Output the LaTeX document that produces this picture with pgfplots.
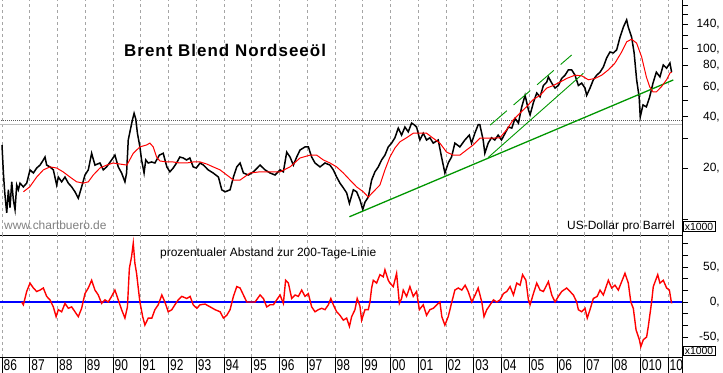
\documentclass[border=0pt]{standalone}
\usepackage{pgfplots}
\pgfplotsset{compat=1.18}
\usepackage{graphicx}
\usepackage{fontspec}
\setmainfont{Liberation Sans}
\definecolor{gridgray}{RGB}{165,165,165}
\definecolor{ogreen}{RGB}{0,150,0}
\definecolor{lgray}{RGB}{190,190,190}
\definecolor{dgray}{RGB}{90,90,90}
\newcommand\yl[1]{\scalebox{1}[1.3]{#1}}
\pgfplotsset{
  common/.style={
    scale only axis, width=682bp,
    xmin=1985.928, xmax=2010.505,
    axis line style={black, line width=0.8bp},
    major tick length=6bp, minor tick length=6bp, tick align=outside,
    ytick style={black, line width=0.8bp},
    minor tick style={black, line width=0.8bp},
    xtick={1986,...,2010}, xticklabels={}, xmajorgrids,
    xtick style={draw=none},
    major grid style={gridgray, dash pattern=on 3bp off 3bp, line width=0.6bp},
    yticklabel style={anchor=east, inner sep=0pt, xshift=32bp, font=\fontsize{12}{12}\selectfont},
  }
}
\begin{document}
\begin{tikzpicture}
% ---------------- top panel: price ----------------
\begin{axis}[common,
  at={(0bp,138bp)}, anchor=south west, height=235bp,
  ymode=log, ymin=8.09, ymax=193.6,
  axis x line*=bottom, axis y line*=right,
  ytick={20,40,60,80,100,140},
  yticklabels={{20,},{40,},{60,},{80,},{100,},{140,}},
  minor ytick={10,30,50,120,160,180},
]
\addplot[lgray, line width=1bp] coordinates {(1985.9,36.24) (2010.6,36.24)};
\addplot[dgray, dash pattern=on 1bp off 1bp, line width=0.8bp] coordinates {(1985.9,38.27) (2010.6,38.27)};
\addplot[black, line width=1.5bp] coordinates {
(1986.00,27.3)(1986.05,18.7)(1986.10,14.3)(1986.17,10.9)(1986.23,14.9)(1986.29,11.7)
(1986.35,16.6)(1986.41,13.0)(1986.47,11.4)(1986.53,15.9)(1986.59,14.9)(1986.65,16.3)
(1986.77,15.5)(1986.89,16.3)(1987.01,19.5)(1987.13,18.7)(1987.25,20.0)(1987.37,20.8)
(1987.49,22.3)(1987.55,23.2)(1987.61,20.8)(1987.73,20.3)(1987.85,19.5)(1987.97,15.9)
(1988.03,17.7)(1988.15,16.6)(1988.27,17.7)(1988.39,16.3)(1988.51,15.5)(1988.63,14.5)
(1988.75,13.3)(1988.87,15.5)(1988.99,18.2)(1989.11,19.5)(1989.23,24.4)(1989.35,20.8)
(1989.53,21.4)(1989.65,19.5)(1989.77,20.3)(1989.95,22.3)(1990.07,23.8)(1990.19,20.3)
(1990.31,18.7)(1990.43,16.6)(1990.49,18.7)(1990.55,29.2)(1990.61,32.6)(1990.70,38.3)
(1990.76,41.9)(1990.82,38.8)(1990.88,32.0)(1990.97,26.6)(1991.03,22.3)(1991.12,18.7)
(1991.18,22.3)(1991.27,21.4)(1991.39,21.7)(1991.51,21.4)(1991.67,23.8)(1991.81,24.4)
(1991.94,20.3)(1992.05,19.0)(1992.17,20.0)(1992.29,21.4)(1992.41,23.2)(1992.53,22.9)
(1992.65,22.3)(1992.77,22.9)(1992.89,20.3)(1993.00,20.0)(1993.14,21.4)(1993.26,20.8)
(1993.43,19.5)(1993.61,18.7)(1993.80,17.7)(1993.92,14.9)(1994.04,14.5)(1994.22,14.9)
(1994.34,17.7)(1994.46,20.3)(1994.58,21.4)(1994.70,18.7)(1994.88,18.2)(1995.06,19.0)
(1995.30,20.8)(1995.48,19.5)(1995.66,18.7)(1995.84,18.2)(1996.02,19.5)(1996.14,19.0)
(1996.26,24.8)(1996.38,23.2)(1996.50,20.8)(1996.62,23.2)(1996.74,25.5)(1996.92,26.6)
(1997.04,26.6)(1997.16,23.2)(1997.28,21.4)(1997.46,20.3)(1997.64,21.4)(1997.82,20.8)
(1997.94,19.5)(1998.06,17.7)(1998.18,16.3)(1998.30,15.3)(1998.42,14.3)(1998.52,12.4)
(1998.66,14.9)(1998.78,14.5)(1998.90,13.0)(1999.00,11.4)(1999.08,12.6)(1999.20,13.5)
(1999.32,17.0)(1999.44,19.0)(1999.56,20.3)(1999.68,22.3)(1999.80,23.8)(1999.92,26.6)
(2000.04,28.0)(2000.16,30.1)(2000.28,34.3)(2000.40,31.2)(2000.52,34.8)(2000.64,32.6)
(2000.76,36.7)(2000.85,35.9)(2000.94,34.8)(2001.06,29.2)(2001.18,32.0)(2001.30,29.2)
(2001.42,30.1)(2001.54,28.0)(2001.72,29.2)(2001.84,23.2)(2001.96,18.7)(2002.08,21.4)
(2002.20,23.2)(2002.32,28.0)(2002.50,26.6)(2002.68,29.2)(2002.84,31.2)(2002.92,28.0)
(2003.04,32.0)(2003.16,35.9)(2003.22,35.9)(2003.34,29.2)(2003.40,24.4)(2003.52,28.0)
(2003.64,30.1)(2003.76,29.2)(2003.88,31.2)(2004.00,29.2)(2004.13,32.0)(2004.25,34.8)
(2004.37,34.3)(2004.49,39.1)(2004.61,36.7)(2004.73,45.7)(2004.85,53.4)(2004.97,43.9)
(2005.03,41.0)(2005.15,48.4)(2005.27,55.1)(2005.39,52.3)(2005.51,61.0)(2005.63,63.8)
(2005.69,68.5)(2005.81,63.0)(2005.93,58.9)(2006.05,61.0)(2006.17,67.1)(2006.29,70.1)
(2006.41,75.3)(2006.53,75.3)(2006.65,70.1)(2006.77,61.0)(2006.89,63.0)(2007.01,58.9)
(2007.07,53.4)(2007.19,58.9)(2007.31,65.9)(2007.43,70.1)(2007.55,73.0)(2007.67,78.3)
(2007.79,88.5)(2007.91,95.9)(2008.03,94.7)(2008.15,98.6)(2008.27,117)(2008.39,134)
(2008.51,148)(2008.57,134)(2008.69,117)(2008.78,94.7)(2008.87,65.9)(2008.96,52.3)
(2009.00,39.9)(2009.10,46.9)(2009.22,45.7)(2009.34,52.3)(2009.46,63.0)(2009.58,73.0)
(2009.71,68.5)(2009.83,80.5)(2009.95,77.1)(2010.07,82.6)(2010.13,73.0)
};
% trend lines
\addplot[ogreen, line width=1.3bp] coordinates {(1998.52,10.35) (2010.19,65.7)};
\addplot[ogreen, line width=0.9bp] coordinates {(2003.52,23.05) (2006.95,71.9)};
\addplot[ogreen, line width=0.9bp, dash pattern=on 22bp off 9bp] coordinates {(2003.59,35.7) (2006.53,92.1)};
% 200-day line
\addplot[red, line width=1bp] coordinates {
(1986.77,14.5)(1987.00,15.5)(1987.25,17.7)(1987.49,19.5)(1987.73,20.3)(1987.97,20.0)
(1988.20,19.0)(1988.45,17.7)(1988.69,16.6)(1988.93,16.3)(1989.11,16.6)(1989.29,18.2)
(1989.53,20.0)(1989.77,20.8)(1990.00,21.4)(1990.25,21.1)(1990.50,20.8)(1990.73,24.4)
(1990.97,26.6)(1991.21,27.3)(1991.33,28.0)(1991.45,26.6)(1991.57,23.2)(1991.69,22.0)
(1991.94,21.7)(1992.17,21.7)(1992.41,21.4)(1992.65,21.4)(1992.89,21.7)(1993.14,21.7)
(1993.38,21.1)(1993.61,20.3)(1993.86,19.5)(1994.10,18.2)(1994.34,17.0)(1994.58,17.0)
(1994.94,18.7)(1995.30,19.0)(1995.66,19.0)(1996.02,19.0)(1996.38,20.3)(1996.74,22.9)
(1997.10,23.8)(1997.34,23.8)(1997.58,22.3)(1997.82,21.4)(1998.06,20.3)(1998.30,18.7)
(1998.54,17.0)(1998.78,15.5)(1999.02,14.5)(1999.20,13.5)(1999.38,14.5)(1999.62,15.9)
(1999.80,19.5)(1999.98,23.2)(2000.16,26.2)(2000.34,28.5)(2000.58,30.1)(2000.82,32.0)
(2001.06,32.0)(2001.30,32.0)(2001.54,29.9)(2001.78,28.0)(2002.02,24.8)(2002.26,23.8)
(2002.50,23.8)(2002.74,25.5)(2002.98,27.3)(2003.22,29.9)(2003.58,29.9)(2003.94,30.1)
(2004.18,33.4)(2004.42,38.3)(2004.66,41.9)(2004.90,45.7)(2005.14,50.4)(2005.39,53.4)
(2005.63,58.9)(2005.87,61.0)(2006.11,63.8)(2006.35,67.1)(2006.65,70.1)(2006.89,69.5)
(2007.13,65.9)(2007.37,67.1)(2007.61,70.1)(2007.85,75.3)(2008.09,82.6)(2008.33,95.9)
(2008.51,110)(2008.69,114)(2008.87,108)(2009.05,89.7)(2009.22,68.5)(2009.34,59.9)
(2009.46,55.9)(2009.58,55.9)(2009.76,59.9)(2009.95,65.9)(2010.07,72.2)(2010.13,73.0)
};
\end{axis}
% ---------------- bottom panel: oscillator ----------------
\begin{axis}[common,
  at={(0bp,16bp)}, anchor=south west, height=122bp,
  ymin=-78.6, ymax=95.7,
  axis x line*=bottom, axis y line*=right,
  ytick={-50,0,50},
  yticklabels={{-50,},{0,},{50,}},
  minor ytick={-66.67,-33.33,-16.67,16.67,33.33,66.67,83.33},
]
\addplot[blue, line width=1.2bp] coordinates {(1985.9,0) (2010.6,0)};
\addplot[red, line width=1.4bp] coordinates {
(1986.71,0)(1986.77,-4)(1986.89,15)(1987.01,27)(1987.13,20)(1987.25,15)(1987.37,17)
(1987.49,20)(1987.61,8)(1987.73,3)(1987.85,-7)(1987.95,-21)(1988.03,-11)(1988.15,-14)
(1988.27,-2)(1988.39,-9)(1988.51,-7)(1988.63,-14)(1988.75,-21)(1988.87,-9)(1988.99,12)
(1989.11,20)(1989.23,31)(1989.35,17)(1989.47,10)(1989.59,-2)(1989.71,3)(1989.83,0)
(1989.95,8)(1990.07,17)(1990.19,3)(1990.31,-11)(1990.43,-23)(1990.52,-7)(1990.59,48)
(1990.67,65)(1990.73,84)(1990.79,55)(1990.85,41)(1990.91,20)(1990.97,0)(1991.07,-21)
(1991.15,-33)(1991.27,-23)(1991.40,-23)(1991.51,-11)(1991.63,-4)(1991.76,10)(1991.87,0)
(1991.99,-14)(1992.12,-11)(1992.23,-4)(1992.35,3)(1992.48,8)(1992.66,5)(1992.78,8)
(1992.89,-4)(1993.02,-9)(1993.14,-4)(1993.32,-3)(1993.50,-7)(1993.68,-11)(1993.86,-14)
(1993.98,-23)(1994.10,-19)(1994.22,-11)(1994.34,8)(1994.46,22)(1994.58,20)(1994.70,10)
(1994.82,0)(1995.00,0)(1995.12,0)(1995.30,10)(1995.42,5)(1995.54,-7)(1995.66,-4)
(1995.78,-4)(1995.90,3)(1996.02,10)(1996.14,-2)(1996.22,31)(1996.32,27)(1996.44,5)
(1996.56,10)(1996.68,8)(1996.80,17)(1996.92,8)(1997.04,12)(1997.16,-7)(1997.28,-14)
(1997.40,-11)(1997.52,-9)(1997.64,-11)(1997.76,-4)(1997.85,5)(1997.94,-4)(1998.06,-14)
(1998.18,-19)(1998.30,-26)(1998.42,-23)(1998.52,-35)(1998.60,-21)(1998.72,-11)(1998.80,5)
(1998.90,-6)(1998.96,-26)(1999.08,-11)(1999.20,-11)(1999.26,0)(1999.32,20)(1999.38,31)
(1999.50,27)(1999.62,39)(1999.74,36)(1999.80,46)(1999.92,31)(1999.98,27)(2000.10,22)
(2000.22,41)(2000.32,-2)(2000.40,5)(2000.46,17)(2000.58,8)(2000.70,22)(2000.82,8)
(2000.94,15)(2001.04,-11)(2001.18,-4)(2001.30,-19)(2001.42,-11)(2001.54,-9)(2001.67,-4)
(2001.78,0)(2001.85,-21)(2001.96,-33)(2002.08,-21)(2002.21,0)(2002.32,17)(2002.44,20)
(2002.57,17)(2002.69,24)(2002.80,15)(2002.93,0)(2003.05,10)(2003.16,20)(2003.29,0)
(2003.37,-21)(2003.47,-11)(2003.59,-4)(2003.71,3)(2003.83,0)(2003.95,3)(2004.07,12)
(2004.19,15)(2004.31,22)(2004.43,10)(2004.55,27)(2004.67,24)(2004.76,39)(2004.88,31)
(2004.97,3)(2005.03,-4)(2005.15,12)(2005.27,27)(2005.39,17)(2005.51,15)(2005.69,29)
(2005.81,10)(2005.93,0)(2006.05,8)(2006.17,15)(2006.35,20)(2006.47,15)(2006.59,10)
(2006.71,0)(2006.77,-11)(2006.89,-14)(2007.01,-9)(2007.09,-23)(2007.19,-11)(2007.31,5)
(2007.45,8)(2007.55,17)(2007.67,10)(2007.85,31)(2007.97,20)(2008.09,24)(2008.21,17)
(2008.33,29)(2008.45,41)(2008.57,27)(2008.66,0)(2008.75,-9)(2008.85,-40)(2008.97,-54)
(2009.02,-64)(2009.11,-54)(2009.23,-50)(2009.29,-35)(2009.41,0)(2009.47,22)(2009.63,39)
(2009.71,27)(2009.83,31)(2009.95,20)(2010.05,17)(2010.13,-2)
};
\end{axis}
% ---------------- year label strip ----------------
\begin{axis}[
  at={(0bp,0bp)}, anchor=south west, scale only axis, width=682bp, height=16bp,
  xmin=1985.928, xmax=2010.505, ymin=0, ymax=1,
  axis line style={draw=none}, ytick=\empty,
  xtick={1986,...,2010},
  xticklabels={\yl{86},\yl{87},\yl{88},\yl{89},\yl{90},\yl{91},\yl{92},\yl{93},\yl{94},\yl{95},\yl{96},\yl{97},\yl{98},\yl{99},\yl{00},\yl{01},\yl{02},\yl{03},\yl{04},\yl{05},\yl{06},\yl{07},\yl{08},\yl{010},\yl{10}},
  xmajorgrids, major grid style={black, solid, line width=0.8bp},
  xtick style={draw=none},
  xticklabel style={anchor=north west, inner sep=0pt, xshift=1.5bp, yshift=14bp, font=\fontsize{12}{12}\selectfont},
]
\end{axis}
\draw[black, line width=0.8bp] (682bp,0bp) -- (682bp,373bp);
% texts
\node[anchor=base west, inner sep=0pt, font={\fontsize{17}{19}\selectfont\bfseries\addfontfeatures{LetterSpace=6}}] at (124bp,316bp) {Brent Blend Nordseeöl};
\node[anchor=base west, inner sep=0pt, text=gray, font=\fontsize{12}{12}\selectfont] at (4bp,143bp) {www.chartbuero.de};
\node[anchor=base east, inner sep=0pt, font=\fontsize{12}{12}\selectfont] at (675bp,143.7bp) {US-Dollar pro Barrel};
\node[anchor=base west, inner sep=0pt, font=\fontsize{12}{12}\selectfont] at (160bp,116bp) {prozentualer Abstand zur 200-Tage-Linie};
\node[draw, line width=0.6bp, fill=white, inner xsep=1.5bp, inner ysep=1.5bp, anchor=south west, font=\fontsize{10.5}{10.5}\selectfont] at (683bp,141bp) {x1000};
\node[draw, line width=0.6bp, fill=white, inner xsep=1.5bp, inner ysep=1bp, anchor=south west, font=\fontsize{10.5}{10.5}\selectfont] at (683bp,17bp) {x1000};
\pgfresetboundingbox
\useasboundingbox (0bp,0bp) rectangle (723bp,373bp);
\end{tikzpicture}
\end{document}
